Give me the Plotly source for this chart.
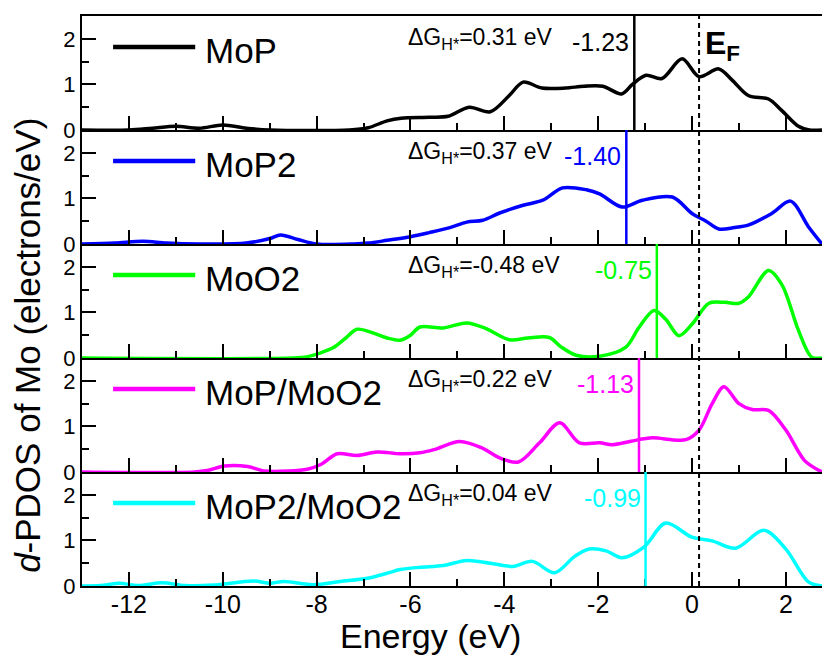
import plotly.graph_objects as go
from plotly.subplots import make_subplots

# ---------------- data ----------------
names = ["MoP", "MoP2", "MoO2", "MoP/MoO2", "MoP2/MoO2"]
colors = ["#000000", "#0000FF", "#00FF00", "#FF00FF", "#00FFFF"]
dG_values = ["0.31", "0.37", "-0.48", "0.22", "0.04"]
d_centers = [-1.23, -1.40, -0.75, -1.13, -0.99]
d_center_labels = ["-1.23", "-1.40", "-0.75", "-1.13", "-0.99"]
fermi_level = 0.15

mop_e = [-13, -12.0, -11.5, -11.0, -10.5, -10.0, -9.5, -9.0, -7.3, -6.9, -6.5, -6.2, -5.6, -5.2,
         -4.75, -4.3, -3.9, -3.6, -3.2, -2.7, -2.3, -1.9, -1.5, -1.27, -0.98, -0.64, -0.21, 0.15,
         0.57, 0.85, 1.21, 1.63, 1.91, 2.27, 2.5, 2.77]
mop_d = [0, 0.0, 0.04, 0.08, 0.04, 0.11, 0.04, 0.0, 0.0, 0.05, 0.2, 0.26, 0.28, 0.3,
         0.5, 0.4, 0.75, 1.05, 0.92, 0.92, 0.96, 0.96, 0.79, 1.0, 1.2, 1.13, 1.56, 1.17,
         1.34, 1.1, 0.75, 0.68, 0.43, 0.08, 0.0, 0.0]

mop2_e = [-13, -12.3, -11.7, -11.2, -10.5, -9.5, -9.0, -8.77, -8.4, -8.0, -7.2, -6.9, -6.5, -6.0,
          -5.6, -5.16, -4.8, -4.46, -4.1, -3.6, -3.18, -2.76, -2.25, -1.97, -1.49, -1.06, -0.42,
          0.0, 0.3, 0.57, 0.9, 1.21, 1.7, 2.1, 2.48, 2.77]
mop2_d = [0.0, 0.02, 0.06, 0.02, 0.0, 0.02, 0.12, 0.2, 0.1, 0.0, 0.0, 0.02, 0.08, 0.16,
          0.25, 0.36, 0.48, 0.52, 0.68, 0.85, 0.96, 1.23, 1.19, 1.1, 0.81, 0.96, 1.03,
          0.67, 0.5, 0.33, 0.36, 0.42, 0.67, 0.94, 0.38, 0.0]

moo2_e = [-13, -8.5, -8.2, -7.9, -7.64, -7.4, -7.14, -6.8, -6.5, -6.22, -6.0, -5.8, -5.3, -4.8,
          -4.4, -3.89, -3.5, -3.04, -2.8, -2.47, -1.97, -1.41, -1.13, -0.81, -0.56, -0.28, 0.0,
          0.36, 0.7, 1.0, 1.21, 1.63, 1.92, 2.27, 2.55, 2.77]
moo2_d = [0, 0, 0.03, 0.12, 0.23, 0.42, 0.63, 0.55, 0.44, 0.39, 0.5, 0.68, 0.66, 0.77,
          0.65, 0.4, 0.44, 0.45, 0.25, 0.06, 0.04, 0.24, 0.67, 1.04, 0.85, 0.49, 0.74,
          1.2, 1.22, 1.2, 1.35, 1.92, 1.6, 0.6, 0.02, 0.0]

mopmoo2_e = [-13, -10.6, -10.3, -9.97, -9.47, -9.1, -8.6, -8.2, -7.9, -7.56, -7.14, -6.71, -6.22,
             -5.8, -5.5, -4.95, -4.46, -4.1, -3.7, -3.25, -2.82, -2.4, -1.97, -1.69, -1.13, -0.85,
             -0.13, 0.15, 0.43, 0.68, 1.0, 1.28, 1.63, 2.0, 2.4, 2.77]
mopmoo2_d = [0, 0, 0.04, 0.13, 0.12, 0.02, 0.02, 0.06, 0.17, 0.4, 0.36, 0.44, 0.4,
             0.42, 0.49, 0.67, 0.52, 0.31, 0.22, 0.64, 1.08, 0.64, 0.64, 0.6, 0.71, 0.75,
             0.71, 0.92, 1.5, 1.87, 1.5, 1.37, 1.35, 0.92, 0.25, 0.0]

mop2moo2_e = [-13, -12.6, -12.2, -11.8, -11.3, -10.8, -10.2, -9.34, -9.0, -8.7, -8.07, -7.5, -6.92,
              -6.5, -6.22, -5.8, -5.3, -4.8, -4.3, -3.82, -3.4, -2.93, -2.5, -2.19, -1.83, -1.49,
              -1.02, -0.56, 0.0, 0.43, 0.93, 1.53, 2.0, 2.48, 2.77]
mop2moo2_d = [0, 0.01, 0.06, 0.01, 0.07, 0.01, 0.02, 0.11, 0.06, 0.1, 0.03, 0.1, 0.17,
              0.28, 0.36, 0.41, 0.45, 0.56, 0.5, 0.43, 0.54, 0.29, 0.65, 0.81, 0.77, 0.62,
              0.86, 1.38, 1.07, 0.99, 0.83, 1.22, 0.81, 0.09, 0.0]

energies = [mop_e, mop2_e, moo2_e, mopmoo2_e, mop2moo2_e]
dos = [mop_d, mop2_d, moo2_d, mopmoo2_d, mop2moo2_d]

x_tick_vals = [-12, -10, -8, -6, -4, -2, 0, 2]
x_tick_text = ["-12", "-10", "-8", "-6", "-4", "-2", "0", "2"]
x_minor_vals = [-13, -11, -9, -7, -5, -3, -1, 1]
y_tick_vals = [0, 1, 2]
y_tick_text = ["0", "1", "2"]
y_minor_vals = [0.5, 1.5]

# ---------------- figure ----------------
FONT = "Liberation Sans, Arial, sans-serif"
n = len(names)
fig = make_subplots(rows=n, cols=1, shared_xaxes=True, vertical_spacing=0)

for i in range(n):
    fig.add_trace(go.Scatter(x=energies[i], y=dos[i], mode="lines",
                             line=dict(color=colors[i], width=3.5, shape="spline", smoothing=0.9),
                             showlegend=False, hoverinfo="skip"), row=i + 1, col=1)

for i in range(n):
    r = i + 1
    fig.update_xaxes(range=[-13, 2.77], showline=True, linewidth=2, linecolor="black",
                     ticks="inside", ticklen=14, tickwidth=2, tickcolor="black",
                     tickvals=x_tick_vals, ticktext=x_tick_text,
                     minor=dict(ticks="inside", ticklen=7, tickwidth=2, tickcolor="black",
                                tickvals=x_minor_vals),
                     showgrid=False, zeroline=False,
                     showticklabels=(r == n), ticklabelstandoff=-5,
                     tickfont=dict(family=FONT, size=25, color="black"),
                     mirror=(r == 1), row=r, col=1)
    fig.update_yaxes(range=[0, 2.5], showline=True, linewidth=2, linecolor="black",
                     ticks="inside", ticklen=14, tickwidth=2, tickcolor="black",
                     tickvals=y_tick_vals, ticktext=y_tick_text,
                     minor=dict(ticks="inside", ticklen=7, tickwidth=2, tickcolor="black",
                                tickvals=y_minor_vals),
                     showgrid=False, zeroline=False,
                     tickfont=dict(family=FONT, size=22, color="black"),
                     row=r, col=1)

shapes = []
annotations = []
for i in range(n):
    ax = "" if i == 0 else str(i + 1)
    xd, yd = f"x{ax} domain", f"y{ax} domain"
    # legend-like sample line and name
    shapes.append(dict(type="line", xref=xd, yref=yd, x0=0.042, x1=0.153, y0=0.728, y1=0.728,
                       line=dict(color=colors[i], width=4.5)))
    annotations.append(dict(xref=xd, yref=yd, x=0.164, y=0.728, xanchor="left", yanchor="middle",
                            yshift=-3, text=names[i], showarrow=False,
                            font=dict(family=FONT, size=35, color="black")))
    # Delta G annotation
    annotations.append(dict(xref=xd, yref=yd, x=0.438, y=0.825, xanchor="left", yanchor="middle",
                            yshift=-3, text=f"ΔG<sub>H*</sub>=" + dG_values[i] + " eV",
                            showarrow=False, font=dict(family=FONT, size=23, color="black")))
    # d-band centre line and label
    shapes.append(dict(type="line", xref=f"x{ax}", yref=yd, x0=d_centers[i], x1=d_centers[i],
                       y0=0, y1=1, line=dict(color=colors[i], width=2.5)))
    annotations.append(dict(xref=f"x{ax}", yref=yd, x=d_centers[i], y=0.80, xanchor="right",
                            yanchor="middle", xshift=-3, yshift=-3, text=d_center_labels[i],
                            showarrow=False, font=dict(family=FONT, size=25, color=colors[i])))

# Fermi level dashed line
shapes.append(dict(type="line", xref="x", yref="paper", x0=fermi_level, x1=fermi_level,
                   y0=0, y1=1, line=dict(color="black", width=2, dash="5px,4px")))
annotations.append(dict(xref="x", yref="y domain", x=fermi_level, y=0.74, xanchor="left",
                        yanchor="middle", xshift=4, text="<b>E<sub>F</sub></b>", showarrow=False,
                        font=dict(family=FONT, size=32, color="black")))

# axis titles
annotations.append(dict(xref="paper", yref="paper", x=0.4716, y=-0.088, xanchor="center",
                        yanchor="middle", text="Energy (eV)", showarrow=False,
                        font=dict(family=FONT, size=34, color="black")))
annotations.append(dict(xref="paper", yref="paper", x=-0.073, y=0.423, xanchor="center",
                        yanchor="middle", textangle=-90,
                        text="<i>d</i>-PDOS of Mo (electrons/eV)", showarrow=False,
                        font=dict(family=FONT, size=35, color="black")))

fig.update_layout(width=822, height=655, margin=dict(l=82, r=0, t=16, b=69),
                  plot_bgcolor="white", paper_bgcolor="white",
                  shapes=shapes, annotations=annotations, showlegend=False,
                  font=dict(family=FONT, color="black"))

fig.write_html("out.html")
